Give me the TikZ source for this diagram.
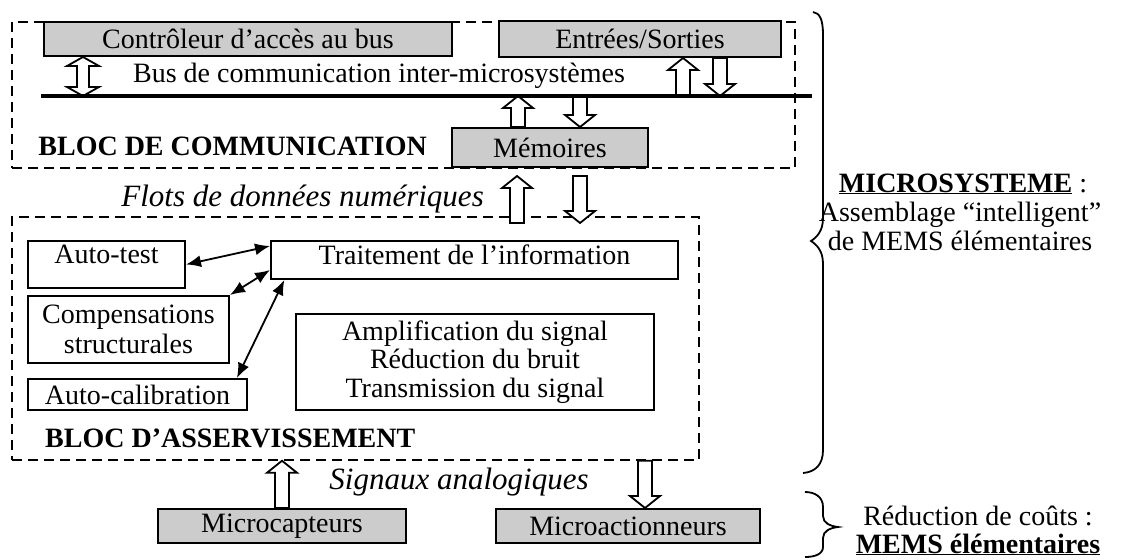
\documentclass[tikz,border=0pt]{standalone}
\usepackage{fontspec}
\setmainfont{Liberation Serif}
\usetikzlibrary{calc,arrows.meta}
\definecolor{boxgray}{RGB}{204,204,204}
\begin{document}
\begin{tikzpicture}[x=1pt,y=-1pt,font=\fontsize{28}{30}\selectfont,
  dashbox/.style={draw,line width=1.5pt,dash pattern=on 10pt off 6pt,inner sep=0pt},
  gbox/.style={draw,line width=2pt,fill=boxgray,inner sep=0pt},
  wbox/.style={draw,line width=2pt,fill=white,inner sep=0pt,align=center},
  lbl/.style={inner sep=0pt,anchor=base},
  toptext/.style={inner sep=0pt,anchor=north},
  thinarr/.style={line width=1.8pt,{Latex[length=15pt,width=12pt]}-{Latex[length=15pt,width=12pt]}},
  busline/.style={line width=4pt},
  bracestyle/.style={line width=1.8pt},
  blk/.style={draw=black,fill=white,line width=1.8pt,to path={let \p1=(\tikztostart),\p2=(\tikztotarget),\n1={ifthenelse(\y2>\y1,1,-1)} in
     (\x1-7pt,\y1) -- (\x1-7pt,{\y2-\n1*12pt}) -- (\x1-15pt,{\y2-\n1*12pt}) -- (\x1,\y2) -- (\x1+15pt,{\y2-\n1*12pt}) -- (\x1+7pt,{\y2-\n1*12pt}) -- (\x1+7pt,\y1) -- cycle}},
  blkdbl/.style={draw=black,fill=white,line width=1.8pt,to path={let \p1=(\tikztostart),\p2=(\tikztotarget),\n1={ifthenelse(\y2>\y1,1,-1)} in
     (\x1-6pt,{\y1+\n1*9pt}) -- (\x1-6pt,{\y2-\n1*9pt}) -- (\x1-16pt,{\y2-\n1*9pt}) -- (\x1,\y2) -- (\x1+16pt,{\y2-\n1*9pt}) -- (\x1+6pt,{\y2-\n1*9pt}) -- (\x1+6pt,{\y1+\n1*9pt}) -- (\x1+16pt,{\y1+\n1*9pt}) -- (\x1,\y1) -- (\x1-16pt,{\y1+\n1*9pt}) -- cycle}}
]
\useasboundingbox (0,0) rectangle (1126,559);

% dashed blocks
\node[dashbox,minimum width=783pt,minimum height=146pt] (comm) at (403.5,95) {};
\node[dashbox,minimum width=687pt,minimum height=243pt] (asserv) at (355.5,338.5) {};

% communication block
\node[gbox,minimum width=408pt,minimum height=34pt] (ctrl) at (248,39) {Contrôleur d’accès au bus};
\node[gbox,minimum width=282pt,minimum height=36pt] (es) at (640,39) {Entrées/Sorties};
\node[gbox,minimum width=196pt,minimum height=39pt] (mem) at (550,147.5) {Mémoires};
\node[lbl] (buslbl) at (379,83) {Bus de communication inter-microsystèmes};
\node[lbl,anchor=base east] (commlbl) at (427,155) {\textbf{BLOC DE COMMUNICATION}};

% asservissement block
\node[wbox,minimum width=157pt,minimum height=47pt] (autotest) at (106.5,264.5) {};
\node[toptext] (autotestlbl) at ([yshift=-5pt]autotest.north) {Auto-test};
\node[wbox,minimum width=407pt,minimum height=38pt] (trait) at (474.5,260) {};
\node[toptext] (traitlbl) at ([yshift=-5pt]trait.north) {Traitement de l’information};
\node[wbox,minimum width=201pt,minimum height=67pt] (comp) at (128.5,329.5) {Compensations\\structurales};
\node[wbox,minimum width=219pt,minimum height=31pt] (calib) at (137.5,394.5) {Auto-calibration};
\node[wbox,minimum width=358pt,minimum height=96pt,font=\fontsize{28}{28.5}\selectfont] (ampl) at (475,362) {Amplification du signal\\Réduction du bruit\\Transmission du signal};
\node[lbl,anchor=base west] (asslbl) at (45,447) {\textbf{BLOC D’ASSERVISSEMENT}};

\draw[thinarr] (autotest.east) -- ($(trait.north west)!0.15!(trait.south west)$);
\draw[thinarr] (comp.north east) -- ($(trait.north west)!0.75!(trait.south west)$);
\draw[thinarr] ($(calib.north west)!0.95!(calib.north east)$) -- ($(trait.south west)!0.035!(trait.south east)$);

% bottom
\node[gbox,minimum width=248pt,minimum height=34pt] (capt) at (282,526) {Microcapteurs};
\node[gbox,minimum width=264pt,minimum height=34pt] (act) at (628,526) {Microactionneurs};

% labels between blocks
\node[lbl,anchor=base east] (flots) at (484,206) {\fontsize{31}{33}\selectfont\itshape Flots de données numériques};
\node[lbl] (signaux) at (459,489) {\fontsize{31}{33}\selectfont\itshape Signaux analogiques};

% coordinates
\coordinate (busL) at (41,96);
\coordinate (busR) at (812,96);
\coordinate (c1) at (83,0);
\coordinate (c2) at (683,0);
\coordinate (c3) at (720,0);
\coordinate (c4) at (518,0);
\coordinate (c5) at (580,0);
\coordinate (f1t) at (517,176);
\coordinate (f1b) at (517,223);
\coordinate (f2t) at (580,176);
\coordinate (f2b) at (580,223);
\coordinate (c7) at (282,0);
\coordinate (c8) at (645,0);

% block arrows
\draw[blkdbl] (c1 |- ctrl.south) to (c1 |- busL);
\draw[blk] (c2 |- busL) to (c2 |- es.south);
\draw[blk] (c3 |- es.south) to (c3 |- busL);
\draw[blk] (c4 |- mem.north) to (c4 |- busL);
\draw[blk] (c5 |- busL) to (c5 |- mem.north);
\draw[blk] (f1b) to (f1t);
\draw[blk] (f2t) to (f2b);
\draw[blk] (c7 |- capt.north) to (c7 |- asserv.south);
\draw[blk] (c8 |- asserv.south) to (c8 |- act.north);

% bus
\draw[busline] (busL) -- (busR);

% braces
\draw[bracestyle] (813,12) .. controls (820,13) and (823,20) .. (823,35) -- (823,218)
  .. controls (823,231) and (817,237) .. (811,241) .. controls (817,245) and (823,251) .. (823,264)
  -- (823,450) .. controls (823,465) and (815,472) .. (803,473);
\draw[bracestyle] (805,492) .. controls (815,492) and (823,497) .. (823,507) -- (823,516)
  .. controls (823,523) and (830,526) .. (838,527) .. controls (830,528) and (823,531) .. (823,538)
  -- (823,547) .. controls (823,554) and (815,557) .. (805,557);

% right texts
\node[lbl] (mstitle) at (963,192) {\underline{\textbf{MICROSYSTEME}} :};
\node[lbl] (assem) at (960,221) {Assemblage “intelligent”};
\node[lbl] (demems) at (960,250) {de MEMS élémentaires};
\node[lbl] (reduc) at (978,525) {Réduction de coûts :};
\node[lbl] (memsel) at (978,553) {\underline{\textbf{MEMS élémentaires}}};
\end{tikzpicture}
\end{document}
